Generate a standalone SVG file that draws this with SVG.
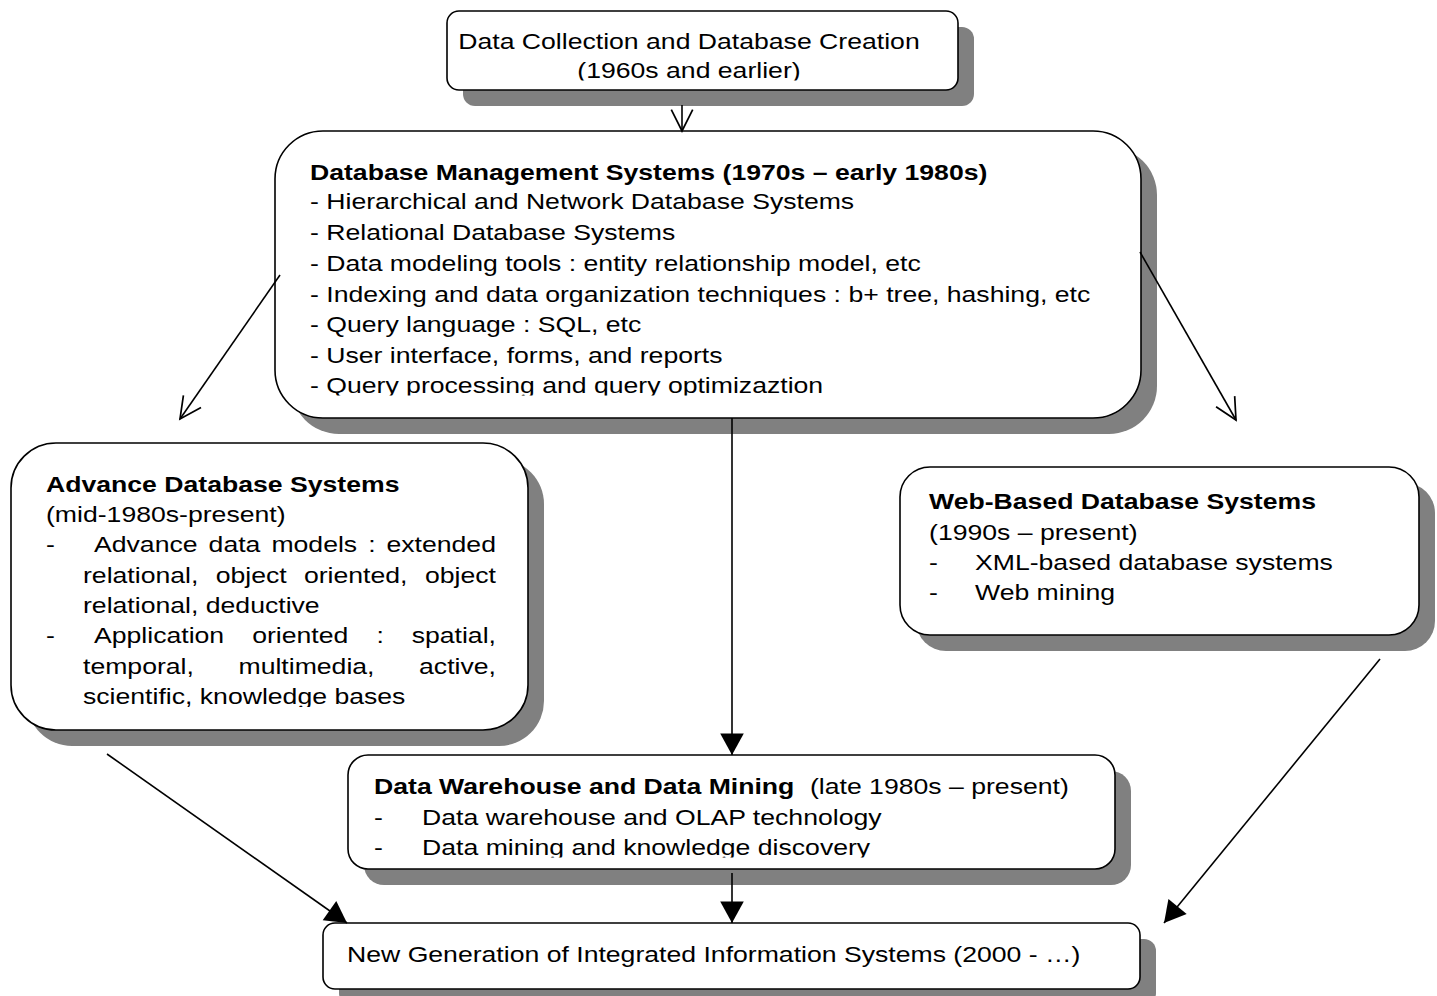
<svg xmlns="http://www.w3.org/2000/svg" width="1437" height="996" viewBox="0 0 1437 996">
<style>
.box{fill:#fff;stroke:#000;stroke-width:1.6}
.shd{fill:#808080;stroke:none}
.t{font-family:"Liberation Sans",Arial,sans-serif;font-size:22px;fill:#000}
.b{font-weight:bold}
.c{fill:none;stroke:#000;stroke-width:1.6}
</style>
<defs>
<marker id="open" markerUnits="userSpaceOnUse" markerWidth="30" markerHeight="30" viewBox="-24 -14 28 28" refX="0" refY="0" orient="auto">
<path d="M-20,-10 L0,0 L-20,10" fill="none" stroke="#000" stroke-width="1.6"/>
</marker>
<marker id="fill" markerUnits="userSpaceOnUse" markerWidth="30" markerHeight="30" viewBox="-24 -14 28 28" refX="0" refY="0" orient="auto">
<path d="M0,0 L-20,-11 L-20,11 Z" fill="#000"/>
</marker>
<clipPath id="cp1" clipPathUnits="userSpaceOnUse"><rect x="440" y="0" width="530" height="80.5"/></clipPath>
<clipPath id="cp2" clipPathUnits="userSpaceOnUse"><rect x="270" y="120" width="880" height="275.5"/></clipPath>
<clipPath id="cp3" clipPathUnits="userSpaceOnUse"><rect x="0" y="440" width="540" height="267"/></clipPath>
<clipPath id="cp5" clipPathUnits="userSpaceOnUse"><rect x="340" y="750" width="790" height="107.5"/></clipPath>
</defs>
<rect width="1437" height="996" fill="#fff"/>

<g id="node-collection">
<rect class="shd" x="463" y="27" width="511" height="79" rx="12"/>
<rect class="box" x="447" y="11" width="511" height="79" rx="12"/>
<g clip-path="url(#cp1)"><g transform="scale(1.21 1)">
<text class="t" x="569.4" y="49" text-anchor="middle">Data Collection and Database Creation</text>
<text class="t" x="569.4" y="78" text-anchor="middle">(1960s and earlier)</text>
</g></g>
</g>

<g id="node-dbms">
<rect class="shd" x="291" y="147" width="866" height="287" rx="48"/>
<rect class="box" x="275" y="131" width="866" height="287" rx="48"/>
<g clip-path="url(#cp2)"><g transform="scale(1.21 1)">
<text class="t b" x="256.2" y="180">Database Management Systems (1970s – early 1980s)</text>
<text class="t" x="256.2" y="209">- Hierarchical and Network Database Systems</text>
<text class="t" x="256.2" y="240">- Relational Database Systems</text>
<text class="t" x="256.2" y="271">- Data modeling tools : entity relationship model, etc</text>
<text class="t" x="256.2" y="302">- Indexing and data organization techniques : b+ tree, hashing, etc</text>
<text class="t" x="256.2" y="332">- Query language : SQL, etc</text>
<text class="t" x="256.2" y="363">- User interface, forms, and reports</text>
<text class="t" x="256.2" y="393">- Query processing and query optimizaztion</text>
</g></g>
</g>

<g id="node-advance">
<rect class="shd" x="27" y="459" width="517" height="287" rx="45"/>
<rect class="box" x="11" y="443" width="517" height="287" rx="45"/>
<g clip-path="url(#cp3)"><g transform="scale(1.21 1)">
<text class="t b" x="38.02" y="492">Advance Database Systems</text>
<text class="t" x="38.02" y="522">(mid-1980s-present)</text>
<text class="t" x="38.02" y="552.5">-</text>
<text class="t" x="77.69" y="552.5">Advance</text>
<text class="t" x="172.4" y="552.5">data</text>
<text class="t" x="224.3" y="552.5">models</text>
<text class="t" x="304.3" y="552.5">:</text>
<text class="t" x="409.9" y="552.5" text-anchor="end">extended</text>
<text class="t" x="68.6" y="583">relational,</text>
<text class="t" x="178.3" y="583">object</text>
<text class="t" x="251.2" y="583">oriented,</text>
<text class="t" x="409.9" y="583" text-anchor="end">object</text>
<text class="t" x="68.6" y="613">relational, deductive</text>
<text class="t" x="38.02" y="643.5">-</text>
<text class="t" x="77.69" y="643.5">Application</text>
<text class="t" x="208.4" y="643.5">oriented</text>
<text class="t" x="311.1" y="643.5">:</text>
<text class="t" x="409.9" y="643.5" text-anchor="end">spatial,</text>
<text class="t" x="68.6" y="674">temporal,</text>
<text class="t" x="197.1" y="674">multimedia,</text>
<text class="t" x="409.9" y="674" text-anchor="end">active,</text>
<text class="t" x="68.6" y="704">scientific, knowledge bases</text>
</g></g>
</g>

<g id="node-web">
<rect class="shd" x="916" y="483" width="519" height="168" rx="30"/>
<rect class="box" x="900" y="467" width="519" height="168" rx="30"/>
<g transform="scale(1.21 1)">
<text class="t b" x="767.8" y="509">Web-Based Database Systems</text>
<text class="t" x="767.8" y="540">(1990s – present)</text>
<text class="t" x="767.8" y="570">-</text>
<text class="t" x="805.8" y="570">XML-based database systems</text>
<text class="t" x="767.8" y="600">-</text>
<text class="t" x="805.8" y="600">Web mining</text>
</g>
</g>

<g id="node-dw">
<rect class="shd" x="364" y="771" width="767" height="114" rx="20"/>
<rect class="box" x="348" y="755" width="767" height="114" rx="20"/>
<g clip-path="url(#cp5)"><g transform="scale(1.21 1)">
<text class="t b" x="309.1" y="794">Data Warehouse and Data Mining</text>
<text class="t" x="669.4" y="794">(late 1980s – present)</text>
<text class="t" x="309.1" y="825">-</text>
<text class="t" x="348.8" y="825">Data warehouse and OLAP technology</text>
<text class="t" x="309.1" y="855">-</text>
<text class="t" x="348.8" y="855">Data mining and knowledge discovery</text>
</g></g>
</g>

<g id="node-newgen">
<rect class="shd" x="339" y="939" width="817" height="66" rx="12"/>
<rect class="box" x="323" y="923" width="817" height="66" rx="12"/>
<g transform="scale(1.21 1)">
<text class="t" x="286.8" y="962">New Generation of Integrated Information Systems (2000 - …)</text>
</g>
</g>

<g id="connectors">
<line class="c" x1="682" y1="105" x2="682" y2="131" marker-end="url(#open)"/>
<line class="c" x1="280" y1="275" x2="180" y2="419" marker-end="url(#open)"/>
<line class="c" x1="1140" y1="252" x2="1236" y2="420" marker-end="url(#open)"/>
<line class="c" x1="732" y1="418" x2="732" y2="755" marker-end="url(#fill)"/>
<line class="c" x1="107" y1="754" x2="347" y2="923" marker-end="url(#fill)"/>
<line class="c" x1="732" y1="873" x2="732" y2="923" marker-end="url(#fill)"/>
<line class="c" x1="1380" y1="659" x2="1164" y2="923" marker-end="url(#fill)"/>
</g>
</svg>
